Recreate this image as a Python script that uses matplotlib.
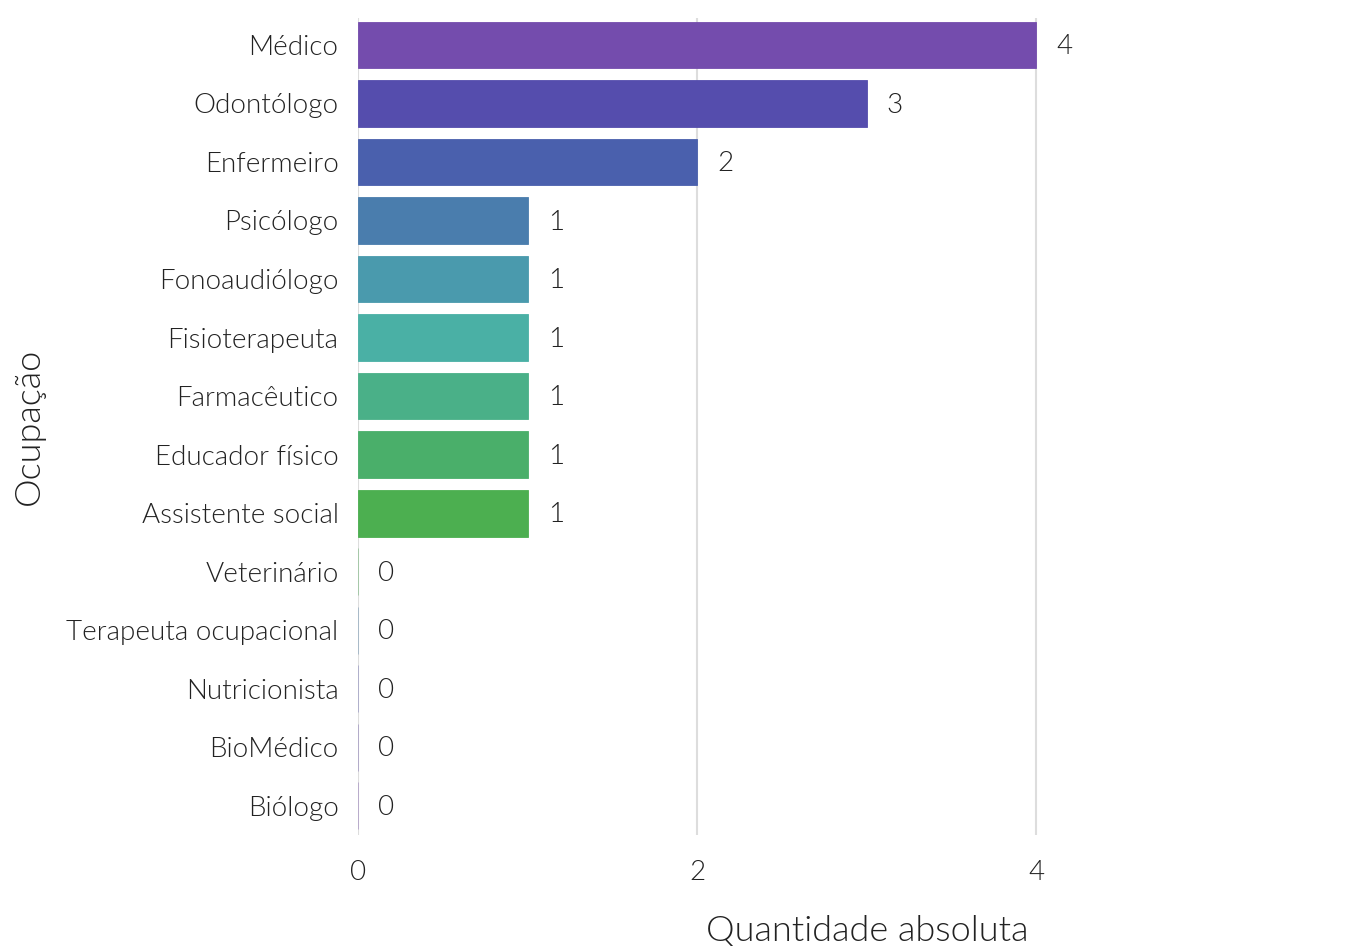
import matplotlib.pyplot as plt
import numpy as np

plt.rcParams['font.family'] = ['Lato', 'DejaVu Sans']
plt.rcParams['font.weight'] = 300
plt.rcParams['axes.labelweight'] = 300

ocupacoes = ["Médico", "Odontólogo", "Enfermeiro", "Psicólogo", "Fonoaudiólogo",
             "Fisioterapeuta", "Farmacêutico", "Educador físico", "Assistente social",
             "Veterinário", "Terapeuta ocupacional", "Nutricionista", "BioMédico", "Biólogo"]
quantidades = [4, 3, 2, 1, 1, 1, 1, 1, 1, 0, 0, 0, 0, 0]
cores = ["#744CAD", "#554DAD", "#4A60AD", "#4A7DAD", "#4A9AAD", "#4AB0A5", "#4AB088",
         "#4AAF6A", "#4CAF50", "#9CC4A0", "#9FB4C4", "#A8A8C8", "#ABA3C6", "#B3A3C8"]

fig = plt.figure(figsize=(13.64, 9.46), dpi=100)
ax = fig.add_axes([358 / 1364, 1 - 835 / 946, 1 - 358 / 1364, (835 - 18) / 946])

y = np.arange(len(ocupacoes))
ax.barh(y, quantidades, height=0.8, color=cores, edgecolor=cores, linewidth=0.6, zorder=2)

for yi, v in zip(y, quantidades):
    ax.text(v + 0.12, yi + 0.03, str(v), va="center", ha="left", fontsize=20,
            color="#222222", fontweight=300)

ax.set_xlim(0, (1364 - 358) / 169.5)
ax.set_ylim(13.5, -0.46)
ax.set_xticks([0, 2, 4])
ax.set_yticks(y)
ax.set_yticklabels(ocupacoes)
ax.tick_params(axis="both", length=0, labelsize=20, labelcolor="#222222")
ax.tick_params(axis="y", pad=14)
ax.tick_params(axis="x", pad=18)
ax.grid(axis="x", color="#dddddd", linewidth=1.5, zorder=0)
ax.set_axisbelow(True)
for s in ax.spines.values():
    s.set_visible(False)

ax.set_xlabel("Quantidade absoluta", fontsize=26, color="#222222")
ax.xaxis.set_label_coords((867 - 358) / (1364 - 358), -0.097)
ax.set_ylabel("Ocupação", fontsize=26, color="#222222")
ax.yaxis.set_label_coords(-(358 - 45) / (1364 - 358), 0.50)

fig.savefig("out.png", dpi=100)
